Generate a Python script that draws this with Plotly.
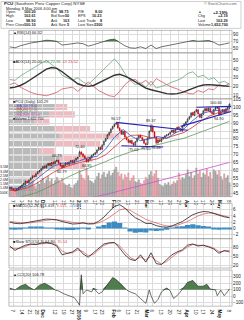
import plotly.graph_objects as go
import pandas as pd

# ---------------- data ----------------
HOLIDAYS = {"2005-11-24", "2005-12-26", "2006-01-02", "2006-01-16", "2006-02-20", "2006-04-14"}
trade_days = [d for d in pd.bdate_range("2005-11-03", "2006-05-08") if d.strftime("%Y-%m-%d") not in HOLIDAYS]
day_idx = list(range(len(trade_days)))
day_pos = {d.strftime("%Y-%m-%d"): i for i, d in enumerate(trade_days)}

tick_dates = ["2005-11-07", "2005-11-14", "2005-11-21", "2005-11-28", "2005-12-01", "2005-12-12", "2005-12-19",
              "2005-12-27", "2006-01-03", "2006-01-09", "2006-01-17", "2006-01-23", "2006-02-01", "2006-02-06",
              "2006-02-13", "2006-02-21", "2006-03-01", "2006-03-06", "2006-03-13", "2006-03-20", "2006-03-27",
              "2006-04-03", "2006-04-10", "2006-04-17", "2006-04-24", "2006-05-01", "2006-05-08"]
tick_text = ["7", "14", "21", "28", "<b>Dec</b>", "12", "19", "27", "<b>2006</b>", "9", "17", "23", "<b>Feb</b>", "6",
             "13", "21", "<b>Mar</b>", "6", "13", "20", "27", "<b>Apr</b>", "10", "17", "24", "<b>May</b>", "8"]

open_ = [48.2, 48.9, 48.1, 47.3, 47.0, 47.7, 48.7, 49.6, 50.6, 51.2,
         52.9, 52.0, 53.8, 55.0, 56.4, 55.9, 57.8, 59.0, 59.8, 60.9,
         62.5, 61.6, 63.2, 64.4, 63.0, 65.1, 64.1, 65.8, 66.2, 64.6,
         63.0, 61.8, 63.3, 64.8, 63.7, 65.2, 66.2, 64.6, 66.5, 67.5,
         68.9, 71.6, 70.3, 69.0, 67.5, 65.5, 66.9, 68.1, 69.5, 70.2,
         71.1, 72.9, 74.6, 73.5, 76.2, 78.6, 80.3, 82.6, 84.1, 86.4,
         88.0, 89.5, 89.9, 86.8, 85.5, 82.9, 84.7, 81.0, 79.6, 77.6,
         79.0, 77.2, 76.0, 78.4, 80.5, 82.3, 80.9, 79.5, 77.0, 76.5,
         80.6, 85.0, 88.0, 84.4, 81.2, 77.4, 79.3, 78.5, 80.1, 81.0,
         81.9, 82.6, 83.1, 84.4, 85.6, 84.1, 86.2, 87.5, 86.4, 85.0,
         88.2, 89.6, 91.0, 92.8, 94.1, 96.8, 95.0, 97.6, 98.6, 95.8,
         93.6, 95.7, 98.0, 99.4, 98.1, 99.6, 97.0, 96.1, 98.9, 99.7,
         99.9, 95.6, 97.4, 98.6, 96.9, 99.0, 100.20]
high = [49.3, 49.4, 48.5, 47.8, 48.3, 49.1, 50.0, 50.9, 51.8, 53.3,
        53.4, 54.0, 55.3, 56.7, 56.9, 58.1, 59.4, 60.2, 61.3, 62.8,
        63.0, 63.6, 64.7, 64.8, 65.4, 65.6, 66.2, 66.79, 66.7, 65.0,
        63.6, 63.7, 65.1, 65.3, 65.6, 66.5, 66.7, 66.8, 67.9, 68.6,
        72.40, 72.1, 70.9, 69.6, 67.9, 67.3, 68.5, 69.9, 70.6, 71.5,
        73.3, 75.1, 75.0, 76.5, 78.9, 80.6, 83.0, 84.5, 86.8, 88.4,
        89.9, 90.57, 90.2, 87.4, 86.0, 85.1, 85.3, 81.6, 80.1, 79.4,
        79.5, 77.8, 78.7, 80.9, 82.6, 82.8, 81.4, 79.9, 77.6, 81.0,
        85.3, 89.37, 88.6, 84.9, 81.7, 79.8, 79.8, 80.5, 81.4, 82.3,
        82.9, 83.5, 84.7, 86.0, 86.1, 86.6, 87.8, 88.0, 86.9, 88.5,
        90.0, 91.3, 93.1, 94.6, 97.0, 97.3, 97.9, 99.1, 98.9, 96.3,
        96.0, 98.4, 99.7, 99.9, 100.0, 100.1, 97.6, 99.2, 100.60, 100.5,
        100.3, 97.8, 99.0, 99.1, 99.6, 100.5, 102.61]
low = [47.6, 47.5, 46.7, 46.3, 46.6, 47.2, 48.2, 49.1, 50.1, 50.8,
       51.6, 51.5, 53.3, 54.5, 55.2, 55.4, 57.3, 58.5, 59.3, 60.4,
       61.0, 61.0, 62.7, 62.6, 62.5, 63.5, 63.6, 65.1, 64.0, 62.2,
       60.79, 61.3, 62.8, 63.3, 63.2, 64.7, 64.2, 64.1, 66.0, 67.0,
       68.5, 69.7, 68.4, 67.0, 64.85, 65.0, 66.4, 67.6, 68.9, 69.7,
       70.6, 72.4, 72.7, 73.0, 75.7, 78.1, 79.8, 82.1, 83.6, 85.9,
       87.5, 88.9, 86.4, 84.8, 82.5, 82.4, 80.7, 79.0, 77.3, 77.1,
       76.5, 75.02, 75.5, 77.9, 80.0, 80.5, 78.9, 76.8, 75.60, 76.1,
       80.1, 84.5, 84.0, 80.5, 76.48, 77.0, 77.9, 78.0, 79.6, 80.5,
       81.4, 82.1, 82.7, 83.9, 83.5, 83.7, 85.7, 86.0, 84.7, 84.6,
       87.7, 89.1, 90.5, 92.3, 93.6, 94.7, 94.5, 97.0, 95.5, 93.2,
       93.1, 95.2, 97.5, 97.5, 97.6, 96.6, 95.8, 95.6, 98.3, 99.2,
       94.90, 95.0, 96.9, 96.3, 96.4, 98.5, 98.90]
close = [48.8, 48.0, 47.2, 46.9, 47.8, 48.6, 49.5, 50.4, 51.3, 52.8,
         52.1, 53.6, 54.9, 56.2, 55.8, 57.6, 58.9, 59.6, 60.8, 62.3,
         61.5, 63.0, 64.2, 63.1, 64.9, 64.0, 65.6, 66.1, 64.5, 62.8,
         61.6, 63.2, 64.6, 63.8, 65.1, 66.0, 64.7, 66.3, 67.4, 68.1,
         71.5, 70.2, 68.9, 67.6, 65.6, 66.8, 68.0, 69.4, 70.1, 71.0,
         72.8, 74.5, 73.2, 76.0, 78.4, 80.1, 82.5, 84.0, 86.2, 87.9,
         89.3, 89.8, 87.0, 85.4, 83.0, 84.6, 81.2, 79.5, 77.8, 78.9,
         77.0, 76.1, 78.2, 80.4, 82.1, 81.0, 79.4, 77.2, 76.3, 80.5,
         84.8, 88.2, 84.6, 81.0, 77.5, 79.2, 78.4, 80.0, 80.9, 81.8,
         82.5, 83.0, 84.2, 85.5, 84.0, 86.1, 87.3, 86.5, 85.2, 88.0,
         89.5, 90.8, 92.6, 94.0, 96.5, 95.2, 97.4, 98.5, 96.0, 93.8,
         95.5, 97.9, 99.2, 98.0, 99.5, 97.1, 96.3, 98.7, 99.6, 100.0,
         95.4, 97.2, 98.5, 96.8, 99.1, 100.10, 102.29]
volume_m = [1.1, 0.9, 0.8, 0.7, 0.9, 1.0, 1.2, 1.3, 1.1, 1.5,
            1.0, 1.4, 1.6, 1.8, 1.2, 0.9, 1.7, 1.5, 1.9, 2.2,
            1.6, 2.0, 2.4, 1.8, 2.1, 1.5, 1.9, 2.3, 2.0, 1.7,
            2.2, 1.6, 1.4, 1.3, 1.5, 1.1, 1.0, 1.4, 1.6, 1.9,
            3.1, 2.6, 2.2, 2.0, 3.4, 2.5, 1.9, 1.8, 1.6, 2.0,
            2.4, 2.8, 2.1, 2.6, 2.9, 2.3, 2.7, 3.0, 2.5, 2.8,
            3.2, 3.5, 2.9, 2.4, 2.7, 2.0, 2.6, 2.3, 2.8, 1.9,
            2.2, 2.5, 1.8, 1.7, 2.0, 1.6, 1.5, 1.9, 2.3, 2.1,
            2.6, 3.0, 2.4, 2.7, 3.1, 2.2, 1.5, 1.3, 1.2, 1.6,
            1.4, 1.7, 1.3, 1.5, 1.8, 1.6, 1.9, 2.8, 2.0, 2.3,
            2.1, 2.6, 3.2, 2.4, 2.9, 2.2, 2.5, 3.4, 2.7, 3.0,
            2.3, 2.8, 2.6, 3.3, 2.4, 2.9, 2.1, 3.2, 3.0, 2.6,
            3.1, 2.4, 2.0, 2.7, 2.2, 2.5, 1.6527]

ma_idx = [0, 5, 10, 15, 20, 25, 30, 35, 40, 45, 50, 55, 60, 65, 70, 75, 80, 85, 90, 95, 100, 105, 110, 115, 120, 125, 126]
ma10 = [48.6, 48.2, 50.2, 54.0, 58.5, 62.5, 64.5, 64.3, 66.0, 68.0, 68.8, 73.5, 81.0, 86.0, 81.5, 78.8, 80.0, 81.5,
        80.3, 83.8, 86.5, 91.8, 96.2, 97.6, 98.3, 98.2, 98.4]
ma20 = [47.0, 47.4, 48.8, 51.3, 55.0, 58.6, 61.5, 63.4, 64.9, 66.0, 67.2, 69.8, 74.5, 79.8, 82.3, 82.4, 81.0, 80.4,
        80.6, 82.2, 84.1, 87.6, 91.6, 94.8, 96.9, 97.5, 97.7]
ma50 = [41.0, 42.5, 44.0, 45.5, 48.0, 51.0, 54.0, 56.5, 59.0, 61.0, 63.0, 65.5, 68.0, 70.0, 72.0, 73.5, 75.0, 76.5,
        77.8, 79.2, 80.4, 82.5, 84.8, 87.0, 89.0, 90.8, 91.2]
ma200 = [31.0, 32.2, 33.4, 34.6, 35.8, 37.0, 38.2, 39.4, 40.6, 41.9, 43.2, 44.5, 45.9, 47.3, 48.7, 50.1, 51.5, 52.9,
         54.3, 55.7, 57.2, 58.7, 60.2, 61.7, 63.2, 64.7, 65.0]

ind_idx = list(range(0, 127, 3))
rsi = [55, 52, 58, 63, 66, 68, 72, 74, 73, 70, 60, 62, 62, 66, 64, 57, 61, 66, 71, 75, 77, 68, 58, 52, 51, 55,
       50, 60, 50, 55, 58, 61, 63, 66, 69, 73, 71, 72, 73, 68, 60, 63, 66.32]
adx = [18, 19, 21, 24, 28, 32, 36, 40, 42, 41, 37, 32, 27, 23, 21, 20, 21, 24, 27, 30, 33, 34, 32, 29, 25, 21,
       18, 16, 14.5, 13, 11.5, 11, 11.5, 13, 15.5, 18, 20, 21.5, 22, 21.5, 21, 20.5, 20.0]
pdi = [28, 27, 32, 36, 40, 44, 47, 50, 46, 41, 33, 30, 27, 30, 25, 22, 28, 34, 40, 46, 52, 45, 35, 27, 22, 24,
       19, 26, 18, 20, 22, 25, 27, 30, 35, 37, 31, 33, 28, 30, 24, 26, 22.36]
mdi = [22, 24, 19, 16, 13, 11, 10, 9, 11, 13, 17, 18, 19, 14, 20, 25, 20, 15, 12, 9, 8, 14, 22, 27, 28, 23,
       27, 21, 29, 25, 22, 19, 17, 14, 12, 11, 15, 13, 17, 16, 22, 20, 23.52]
macd = [2.0, 1.6, 1.5, 1.8, 2.2, 2.6, 2.9, 3.0, 2.9, 2.7, 2.2, 1.8, 1.4, 1.5, 1.8, 1.4, 1.5, 2.3, 3.6, 5.4, 7.0,
        7.6, 6.5, 4.8, 3.4, 2.6, 1.6, 1.6, 0.9, 0.5, 0.4, 0.8, 1.4, 2.2, 3.3, 4.4, 5.0, 5.4, 5.3, 4.8, 4.1, 3.7, 3.419]
signal = [2.2, 2.0, 1.8, 1.7, 1.8, 2.1, 2.4, 2.7, 2.8, 2.8, 2.6, 2.3, 1.9, 1.7, 1.7, 1.6, 1.5, 1.8, 2.5, 3.5, 4.8,
          5.9, 6.3, 5.8, 4.8, 3.8, 2.9, 2.3, 1.7, 1.2, 0.8, 0.7, 1.0, 1.5, 2.2, 3.1, 4.0, 4.6, 4.9, 4.9, 4.5, 3.9, 3.515]
hist = [-0.2, -0.4, -0.3, 0.1, 0.4, 0.5, 0.5, 0.3, 0.1, -0.1, -0.4, -0.5, -0.5, -0.2, 0.1, -0.2, 0.0, 0.5, 1.1, 1.9,
        2.2, 1.7, 0.2, -1.0, -1.4, -1.2, -1.3, -0.7, -0.8, -0.7, -0.4, 0.1, 0.4, 0.7, 1.1, 1.3, 1.0, 0.8, 0.4, -0.1,
        -0.4, -0.2, -0.097]
sto_k = [85, 70, 80, 88, 92, 90, 95, 97, 93, 85, 55, 60, 65, 78, 58, 47, 62, 80, 92, 96, 97, 78, 55, 40, 35, 55,
         30, 62, 25, 22, 38, 55, 65, 72, 88, 92, 85, 88, 82, 75, 60, 70, 64.80]
sto_d = [80, 76, 77, 84, 90, 91, 93, 95, 95, 89, 68, 60, 62, 72, 66, 52, 56, 72, 87, 94, 96, 86, 64, 46, 38, 47,
         38, 50, 35, 24, 32, 48, 61, 69, 82, 90, 88, 87, 84, 78, 66, 67, 70.54]
cci_idx = [0, 3, 6, 9, 11, 14, 17, 20, 23, 26, 28, 31, 34, 37, 39, 40, 41, 42, 44, 47, 48, 51, 53, 56, 59, 61, 64,
           67, 69, 72, 75, 78, 80, 81, 83, 85, 87, 90, 92, 94, 97, 100, 102, 105, 108, 111, 113, 115, 118, 119, 121,
           123, 125, 126]
cci = [125, 96, 154, 184, 140, 96, 169, 199, 154, 96, 81, 37, 7, -22, -96, -140, 330, 37, 96, 66, 125, 37, 66, 184,
       287, 257, 184, 96, 66, 37, -37, -110, 96, 7, -110, -51, 66, 125, 81, -37, 37, 140, 213, 243, 154, 154, 184,
       110, 96, 7, 96, 7, 66, 106.78]

# volume-by-price zones (price bottom, up volume, down volume in millions)
vbp_bottom = [46.3, 51.0, 55.7, 60.4, 65.1, 69.8, 74.5, 79.2, 83.9, 88.6, 93.3, 98.0]
vbp_height = 4.7
vbp_up = [4.0, 3.5, 4.5, 9.0, 10.0, 6.0, 9.0, 10.0, 9.0, 5.0, 8.0, 9.0]
vbp_down = [1.5, 1.5, 2.0, 6.0, 6.5, 3.0, 9.0, 12.0, 7.0, 3.0, 5.0, 2.5]

# trend lines: (start day, start price, end day, end price)
trend_lines = [(61, 90.57, 102, 85.5), (64, 75.6, 88, 74.8), (107, 100.2, 127, 100.8), (98, 88.0, 127, 97.5)]
# labelled pivots: (day, 'H' or 'L')
pivots = [(27, "H"), (30, "L"), (40, "H"), (44, "L"), (61, "H"), (71, "L"), (78, "L"), (81, "H"), (84, "L"),
          (118, "H"), (120, "L")]

# ---------------- layout helpers ----------------
W, H = 244, 320
FONT = "Liberation Sans"
GRID = "#dcdcdc"
BORDER = "#909090"
XD = [9 / W, 234 / W]
XR = [-0.5, 127.5]
tick_vals = [day_pos[d] for d in tick_dates]
TF = dict(size=4.6, color="#222", family=FONT)


def dom(t, b):
    return [1 - b / H, 1 - t / H]


P_RSI, P_ADX, P_PRICE, P_MACD, P_STO, P_CCI = (30, 53), (53, 100), (100, 200), (207, 243), (243, 273), (275, 312)


def xax(anchor, labels=False, overlaying=None, visible=True):
    d = dict(domain=XD, range=XR, anchor=anchor, tickvals=tick_vals, ticktext=tick_text, showticklabels=labels,
             showgrid=True, gridcolor=GRID, gridwidth=0.5, zeroline=False, showline=False, ticks="",
             tickfont=TF, fixedrange=True, visible=visible)
    if overlaying:
        d["overlaying"] = overlaying
    return d


def yax(anchor, panel, rng, tv, tt=None, side="right", grid=True, overlaying=None):
    d = dict(domain=dom(*panel), range=rng, anchor=anchor, side=side, tickvals=tv, showgrid=grid, gridcolor=GRID,
             gridwidth=0.5, zeroline=False, showline=False, ticks="", tickfont=TF, fixedrange=True)
    if tt is not None:
        d["ticktext"] = tt
    if overlaying:
        d["overlaying"] = overlaying
    return d


fig = go.Figure()

# RSI panel (x2/y)
fig.add_trace(go.Scatter(x=ind_idx, y=[70] * len(ind_idx), xaxis="x2", yaxis="y", mode="lines",
                         line=dict(width=0), hoverinfo="skip"))
fig.add_trace(go.Scatter(x=ind_idx, y=[max(v, 70) for v in rsi], xaxis="x2", yaxis="y", mode="lines",
                         line=dict(width=0), fill="tonexty", fillcolor="#4f7d4f", hoverinfo="skip"))
fig.add_trace(go.Scatter(x=ind_idx, y=rsi, xaxis="x2", yaxis="y", mode="lines",
                         line=dict(color="#333", width=0.7)))

# ADX panel (x3/y2)
fig.add_trace(go.Scatter(x=ind_idx, y=pdi, xaxis="x3", yaxis="y2", mode="lines", line=dict(color="#5a9a6a", width=0.7)))
fig.add_trace(go.Scatter(x=ind_idx, y=mdi, xaxis="x3", yaxis="y2", mode="lines", line=dict(color="#d04050", width=0.7)))
fig.add_trace(go.Scatter(x=ind_idx, y=adx, xaxis="x3", yaxis="y2", mode="lines", line=dict(color="#333", width=1.4)))

# Price panel: volume (x/y3), price overlay (x/y4), volume by price (x8/y4 shapes)
vol_colors = ["#a9a9a9" if i == 0 or close[i] >= close[i - 1] else "#e7a3aa" for i in day_idx]
vol_lines = ["#8a8a8a" if i == 0 or close[i] >= close[i - 1] else "#d07a84" for i in day_idx]
fig.add_trace(go.Bar(x=day_idx, y=volume_m, xaxis="x", yaxis="y3", width=0.8,
                     marker=dict(color=vol_colors, line=dict(color=vol_lines, width=0.3))))
fig.add_trace(go.Scatter(x=[0], y=[60], xaxis="x8", yaxis="y4", mode="markers", marker=dict(size=0.1, opacity=0),
                         hoverinfo="skip"))
fig.add_trace(go.Scatter(x=ma_idx, y=ma200, xaxis="x", yaxis="y4", mode="lines", line=dict(color="#d050c8", width=0.8)))
fig.add_trace(go.Scatter(x=ma_idx, y=ma50, xaxis="x", yaxis="y4", mode="lines", line=dict(color="#5e9a5e", width=0.8)))
fig.add_trace(go.Scatter(x=ma_idx, y=ma20, xaxis="x", yaxis="y4", mode="lines", line=dict(color="#d03030", width=0.8)))
fig.add_trace(go.Scatter(x=ma_idx, y=ma10, xaxis="x", yaxis="y4", mode="lines", line=dict(color="#3050c0", width=0.8)))
fig.add_trace(go.Candlestick(x=day_idx, open=open_, high=high, low=low, close=close, xaxis="x", yaxis="y4",
                             whiskerwidth=0,
                             increasing=dict(line=dict(color="#111", width=0.6), fillcolor="#ffffff"),
                             decreasing=dict(line=dict(color="#cc0000", width=0.6), fillcolor="#cc0000")))
for (i0, p0, i1, p1) in trend_lines:
    fig.add_trace(go.Scatter(x=[i0, i1], y=[p0, p1], xaxis="x", yaxis="y4", mode="lines",
                             line=dict(color="#2626b8", width=1.2)))

# MACD panel (x4/y5)
fig.add_trace(go.Bar(x=ind_idx, y=hist, xaxis="x4", yaxis="y5", width=3, marker=dict(color="#3c8cc4", line=dict(width=0))))
fig.add_trace(go.Scatter(x=ind_idx, y=signal, xaxis="x4", yaxis="y5", mode="lines", line=dict(color="#e05050", width=0.7)))
fig.add_trace(go.Scatter(x=ind_idx, y=macd, xaxis="x4", yaxis="y5", mode="lines", line=dict(color="#222", width=0.8)))

# STO panel (x5/y6)
fig.add_trace(go.Scatter(x=ind_idx, y=sto_d, xaxis="x5", yaxis="y6", mode="lines", line=dict(color="#e05050", width=0.7)))
fig.add_trace(go.Scatter(x=ind_idx, y=sto_k, xaxis="x5", yaxis="y6", mode="lines", line=dict(color="#222", width=0.8)))

# CCI panel (x6/y7)
fig.add_trace(go.Scatter(x=cci_idx, y=[100] * len(cci_idx), xaxis="x6", yaxis="y7", mode="lines",
                         line=dict(width=0), hoverinfo="skip"))
fig.add_trace(go.Scatter(x=cci_idx, y=[max(v, 100) for v in cci], xaxis="x6", yaxis="y7", mode="lines",
                         line=dict(width=0), fill="tonexty", fillcolor="#4f7d4f", hoverinfo="skip"))
fig.add_trace(go.Scatter(x=cci_idx, y=cci, xaxis="x6", yaxis="y7", mode="lines", line=dict(color="#333", width=0.7)))

shapes = []
# volume by price bars
for b, u, dn in zip(vbp_bottom, vbp_up, vbp_down):
    shapes.append(dict(type="rect", xref="x8", yref="y4", x0=0, x1=u, y0=b + 0.4, y1=b + vbp_height - 0.4,
                       fillcolor="rgba(130,130,130,0.55)", line=dict(width=0), layer="below"))
    shapes.append(dict(type="rect", xref="x8", yref="y4", x0=u, x1=u + dn, y0=b + 0.4, y1=b + vbp_height - 0.4,
                       fillcolor="rgba(225,120,130,0.5)", line=dict(width=0), layer="below"))
# panel borders
for (t, b) in [P_RSI, P_ADX, P_PRICE, P_MACD, P_STO, P_CCI]:
    shapes.append(dict(type="rect", xref="paper", yref="paper", x0=XD[0], x1=XD[1], y0=1 - b / H, y1=1 - t / H,
                       line=dict(color=BORDER, width=0.6), fillcolor="rgba(0,0,0,0)", layer="above"))
# header box
shapes.append(dict(type="rect", xref="paper", yref="paper", x0=1 / W, x1=243 / W, y0=1 - 28 / H, y1=1 - 0.5 / H,
                   line=dict(color="#b0b0b0", width=0.6), fillcolor="rgba(0,0,0,0)"))

ann = []


def note(x, y, text, size=4.4, color="#222", xanchor="left"):
    ann.append(dict(x=x / W, y=1 - y / H, xref="paper", yref="paper", text=text, showarrow=False,
                    xanchor=xanchor, yanchor="middle", font=dict(size=size, color=color, family=FONT)))


# header
HS = 3.8
note(2, 3, "<b>PCU</b> (Southern Peru Copper Corp) NYSE", 4.4)
note(241, 3, "© StockCharts.com", 3.8, "#666", "right")
note(4, 7.5, "Monday, 8 May 2006 4:00 pm", 3.9)
rows = [("Open", "100.20", "Bid", "98.75", "P/E", "8.00"),
        ("High", "102.61", "Bid Size", "50", "EPS", "10.23"),
        ("Low", "98.90", "Ask", "103", "Last Trade", "8"),
        ("Prev Close", "100.10", "Ask Size", "5", "Last Size", "2300")]
right_rows = [("<span style='color:#2a8a2a'>▲</span>", "+2.19%"), ("Chg", "+2.19"), ("Last", "102.29"),
              ("Volume", "1,652,700")]
for k, r in enumerate(rows):
    y = 11.5 + 4.3 * k
    note(4, y, r[0], HS)
    note(38, y, "<b>" + r[1] + "</b>", HS, xanchor="right")
    note(49, y, r[2], HS)
    note(72, y, "<b>" + r[3] + "</b>", HS, xanchor="right")
    note(77, y, r[4], HS)
    note(105, y, "<b>" + r[5] + "</b>", HS, xanchor="right")
    note(198, y, right_rows[k][0], HS)
    note(232, y, "<b>" + right_rows[k][1] + "</b>", 4.3 if k == 0 else HS, xanchor="right")

# panel legends
note(11, 32.5, "▲RSI(14) %.2f" % rsi[-1], 4.0)
note(11, 62, "■ADX(14) %.2f <span style='color:#3a8a4a'>+DI %.2f</span> <span style='color:#d04050'>-DI %.2f</span>"
     % (adx[-1], pdi[-1], mdi[-1]), 4.0)
note(11, 103.5, "■PCU (Daily) %.2f" % close[-1], 3.8)
note(11, 107, "<span style='color:#3050c0'>—MA(10) %.2f</span>" % ma10[-1], 3.5)
note(11, 110.3, "<span style='color:#d03030'>—MA(20) %.2f</span>" % ma20[-1], 3.5)
note(11, 113.6, "<span style='color:#5e9a5e'>—MA(50) %.2f</span>" % ma50[-1], 3.5)
note(11, 116.9, "<span style='color:#d050c8'>—MA(200) %.2f</span>" % ma200[-1], 3.5)
note(11, 120.2, "■Volume 1,652,700", 3.5)
note(11, 209.5, "■MACD(12,26,9) %.3f, <span style='color:#e05050'>%.3f</span>, <span style='color:#3c8cc4'>%.3f</span>"
     % (macd[-1], signal[-1], hist[-1]), 4.0)
note(11, 246, "■Slow STO(14,3) %.2f, <span style='color:#e05050'>%.2f</span>" % (sto_k[-1], sto_d[-1]), 4.0)
note(11, 280, "▲CCI(20) %.2f" % cci[-1], 4.0)

# pivot labels
for i, kind in pivots:
    val = high[i] if kind == "H" else low[i]
    ann.append(dict(x=i, y=val, xref="x", yref="y4", text="%.2f" % val, showarrow=False,
                    yshift=3.5 if kind == "H" else -3.5, font=dict(size=3.8, color="#222", family=FONT)))

layout = dict(
    width=W, height=H, margin=dict(l=0, r=0, t=0, b=0), paper_bgcolor="white", plot_bgcolor="white",
    showlegend=False, barmode="overlay", hovermode=False, shapes=shapes, annotations=ann,
    xaxis=xax("y3", labels=True),
    xaxis2=xax("y"), xaxis3=xax("y2"), xaxis4=xax("y5"), xaxis5=xax("y6"), xaxis6=xax("y7", labels=True),
    xaxis8=dict(domain=XD, range=[0, 44], anchor="y4", overlaying="x", visible=False, fixedrange=True),
    yaxis=yax("x2", P_RSI, [37.7, 102.3], [90, 70, 50]),
    yaxis2=yax("x3", P_ADX, [5.43, 59.1], [50, 40, 30, 20, 10]),
    yaxis3=yax("x", P_PRICE, [0, 11.6], [0.5, 1.0, 1.5, 2.0, 2.5, 3.0, 3.5],
               ["500K", "1.0M", "1.5M", "2.0M", "2.5M", "3.0M", "3.5M"], side="left", grid=False),
    yaxis4=yax("x", P_PRICE, [43.1, 105.6], [45, 50, 55, 60, 65, 70, 75, 80, 85, 90, 95, 100, 105], overlaying="y3"),
    yaxis5=yax("x4", P_MACD, [-3.28, 7.97], [6, 4, 2, 0, -2]),
    yaxis6=yax("x5", P_STO, [10, 110], [80, 50, 20]),
    yaxis7=yax("x6", P_CCI, [-154, 404], [300, 200, 100, 0, -100]),
)
layout["yaxis3"]["tickfont"] = dict(size=3.6, color="#222", family=FONT)
layout["xaxis"]["rangeslider"] = dict(visible=False)
fig.update_layout(**layout)
fig.write_html("out.html")
